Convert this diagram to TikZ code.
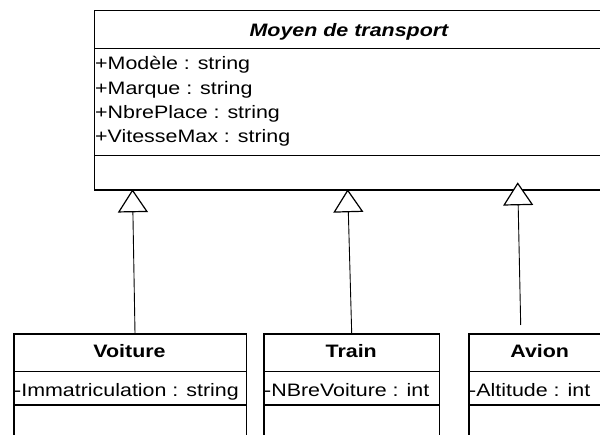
\documentclass[tikz,border=0pt]{standalone}
\usepackage{fontspec}
\setmainfont{Liberation Sans}[FakeStretch=1.19]
\usetikzlibrary{arrows.meta}
\begin{document}
\begin{tikzpicture}[x=1pt,y=-1pt,
  classbox/.style={draw, line width=1.3pt, rectangle, inner sep=0pt, anchor=north west},
  divider/.style={line width=1.3pt},
  ctitle/.style={anchor=base, inner sep=0pt, font=\fontsize{18}{21}\selectfont\bfseries},
  cattr/.style={anchor=base west, inner sep=0pt, font=\fontsize{18}{21}\selectfont},
  inh/.style={line width=0.9pt, -{Triangle[width=30pt,length=23pt,fill=white,line width=1.2pt]}}
]
\useasboundingbox (0,0) rectangle (600,435);
\clip (0,0) rectangle (600,435);

% main class
\node[classbox, minimum width=516pt, minimum height=179.5pt] (main) at (94,10) {};
\draw[divider] (94,48.3) -- (612,48.3);
\draw[divider] (94,155.7) -- (612,155.7);
\node[ctitle, font=\fontsize{18}{21}\selectfont\bfseries\itshape] (tmain) at (349,37) {Moyen de transport};
\node[cattr] (a1) at (95,70) {+Modèle : string};
\node[cattr] (a2) at (95,94.2) {+Marque : string};
\node[cattr] (a3) at (95,118.4) {+NbrePlace : string};
\node[cattr] (a4) at (95,142.6) {+VitesseMax : string};

% subclasses
\node[classbox, minimum width=232.4pt, minimum height=130pt] (voiture) at (13.3,333.3) {};
\node[classbox, minimum width=175.7pt, minimum height=130pt] (train) at (263.3,333.3) {};
\node[classbox, minimum width=160pt, minimum height=130pt] (avion) at (468.3,333.3) {};
\foreach \y in {371.7,405} {
  \draw[divider] (13.3,\y) -- (245.7,\y);
  \draw[divider] (263.3,\y) -- (439,\y);
  \draw[divider] (468.3,\y) -- (630,\y);
}
\node[ctitle] (tv) at (129.5,358) {Voiture};
\node[ctitle] (tt) at (351.2,358) {Train};
\node[ctitle] (ta) at (539.7,358) {Avion};
\node[cattr] (av) at (14,396.5) {-Immatriculation : string};
\node[cattr] (at) at (264,396.5) {-NBreVoiture : int};
\node[cattr] (aa) at (469,396.5) {-Altitude : int};

% generalisations
\coordinate (s1) at (135,333.3);
\coordinate (e1) at (132.5,189.3);
\coordinate (s2) at (351.7,333.3);
\coordinate (e2) at (347.7,189.3);
\coordinate (s3) at (520.7,325);
\coordinate (e3) at (517.7,182.3);
\draw[inh] (s1) -- (e1);
\draw[inh] (s2) -- (e2);
\draw[inh] (s3) -- (e3);
\end{tikzpicture}
\end{document}
